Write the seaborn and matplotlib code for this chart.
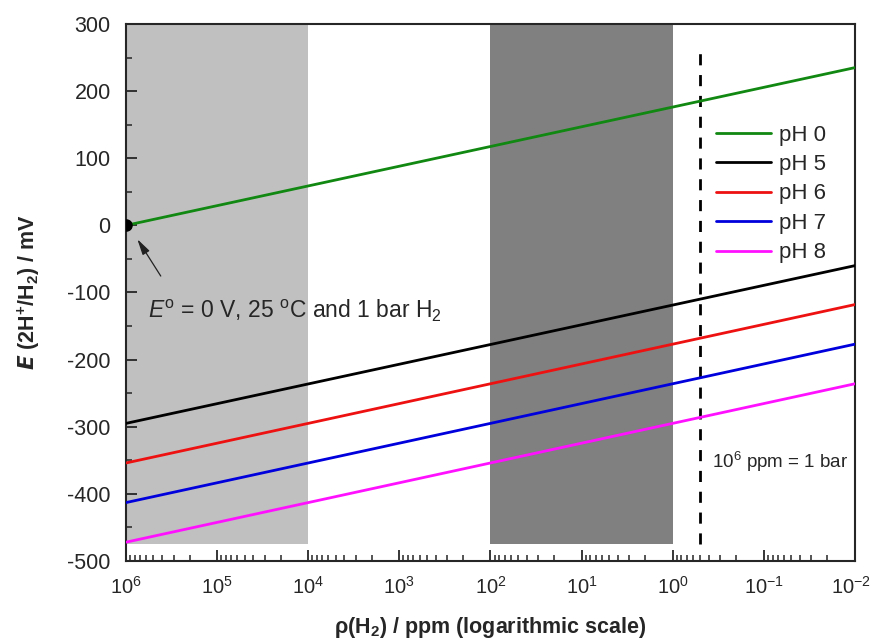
import numpy as np
import pandas as pd
import matplotlib
matplotlib.use("Agg")
import matplotlib.pyplot as plt
import matplotlib.ticker as mticker
import matplotlib.transforms as mtrans
import seaborn as sns

# ---- data ----
ph_labels = ["pH 0", "pH 5", "pH 6", "pH 7", "pH 8"]
x_points = [1e6, 1e-2]                      # ppm H2 at the two ends
e_ph0 = [0, 235]
e_ph5 = [-295, -60]
e_ph6 = [-354, -118]
e_ph7 = [-413, -177]
e_ph8 = [-472, -236]
colors = ["#118811", "#000000", "#ee1111", "#0000dd", "#ff11ff"]

x_ticks = [1e6, 1e5, 1e4, 1e3, 1e2, 1e1, 1e0, 1e-1, 1e-2]
x_ticklabels = ["10$^{6}$", "10$^{5}$", "10$^{4}$", "10$^{3}$", "10$^{2}$",
                "10$^{1}$", "10$^{0}$", "10$^{-1}$", "10$^{-2}$"]

light_band = [1e6, 1e4]
dark_band = [1e2, 1e0]
band_ymin, band_ymax = -475, 300
dashed_x = 0.5
dashed_y = [-475, 258]

series = [e_ph0, e_ph5, e_ph6, e_ph7, e_ph8]
rows = []
for lab, ys in zip(ph_labels, series):
    for x, y in zip(x_points, ys):
        rows.append({"ppm": x, "E": y, "pH": lab})
df = pd.DataFrame(rows)

sns.set_theme(style="ticks")
plt.rcParams["font.family"] = ["Liberation Sans", "DejaVu Sans"]
plt.rcParams["mathtext.fontset"] = "custom"
plt.rcParams["mathtext.rm"] = "Liberation Sans"
plt.rcParams["mathtext.it"] = "Liberation Sans:italic"
plt.rcParams["mathtext.bf"] = "Liberation Sans:bold"
plt.rcParams["axes.unicode_minus"] = False

fig = plt.figure(figsize=(8.75, 6.42), dpi=100)
ax = fig.add_axes([0.144, 0.1262, 0.833, 0.8364])

# shaded bands
ax.fill_between(light_band, band_ymin, band_ymax, color="#c0c0c0", lw=0, zorder=0)
ax.fill_between(dark_band, band_ymin, band_ymax, color="#808080", lw=0, zorder=0)

sns.lineplot(data=df, x="ppm", y="E", hue="pH", hue_order=ph_labels,
             palette=dict(zip(ph_labels, colors)), linewidth=2, ax=ax, zorder=3)

ax.set_xscale("log")
ax.set_xlim(1e6, 1e-2)
ax.set_ylim(-500, 300)

# dashed line
ax.plot([dashed_x, dashed_x], dashed_y, color="black", lw=2, ls=(0, (4, 3.5)), zorder=2)

# reference point
ax.plot([1e6], [0], "o", color="black", ms=8, zorder=4)

ax.annotate("", xy=(7.8e5, -17), xytext=(4.0e5, -79),
            arrowprops=dict(arrowstyle="-|>,head_length=0.8,head_width=0.2",
                            color="#222222", lw=0.9))
ax.text(5.75e5, -128, r"$E^{\rm o}$ = 0 V, 25 $^{\rm o}$C and 1 bar H$_2$",
        fontsize=16.5, va="center", ha="left")
ax.text(0.37, -353, r"10$^{6}$ ppm = 1 bar", fontsize=13.5, va="center", ha="left")

# ticks
ax.set_xticks(x_ticks)
ax.set_xticklabels(x_ticklabels)
ax.xaxis.set_minor_locator(mticker.LogLocator(base=10, subs=np.arange(2, 10), numticks=100))
ax.xaxis.set_minor_formatter(mticker.NullFormatter())
ax.yaxis.set_major_locator(mticker.MultipleLocator(100))
ax.yaxis.set_minor_locator(mticker.MultipleLocator(50))
ax.tick_params(which="major", direction="in", length=8, width=1.3,
               top=False, right=False)
ax.tick_params(axis="y", which="major", labelsize=15.5, pad=11)
ax.tick_params(axis="x", which="major", labelsize=14.5, pad=11)
ax.tick_params(which="minor", direction="in", length=4, width=1.1, top=False, right=False)
for s in ax.spines.values():
    s.set_linewidth(1.5)
    s.set_visible(True)

# keep the last x label inside the figure
last = ax.get_xticklabels()[-1]
last.set_transform(last.get_transform() +
                   mtrans.ScaledTranslation(-4 / 100, 0, fig.dpi_scale_trans))

ax.set_xlabel(r"$\mathbf{\rho}$(H$_\mathbf{2}$) / ppm (logarithmic scale)",
              fontsize=15.5, fontweight="bold", labelpad=12)
ax.set_ylabel(r"$\mathbfit{E}$ (2H$^\mathbf{+}$/H$_\mathbf{2}$) / mV",
              fontsize=15.5, fontweight="bold", labelpad=18)

leg = ax.legend(loc="upper right", bbox_to_anchor=(0.988, 0.85), frameon=False,
                fontsize=16, handlelength=2.5, labelspacing=0.38, handletextpad=0.35)
for line in leg.get_lines():
    line.set_linewidth(2)

fig.savefig("out.png", dpi=100)
